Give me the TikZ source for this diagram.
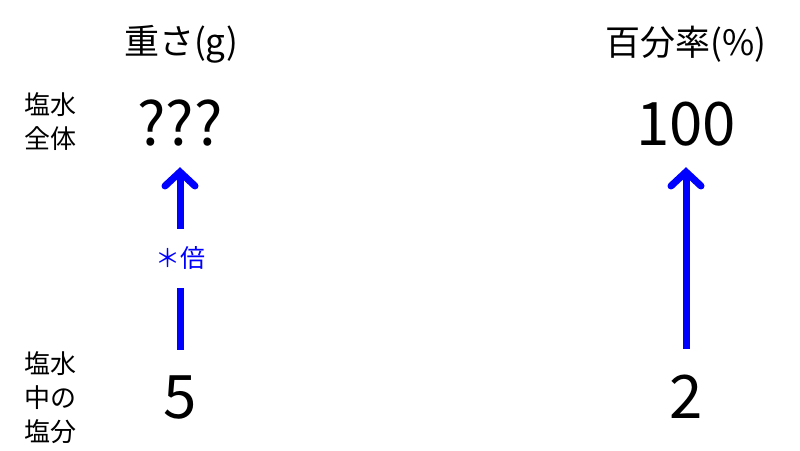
\documentclass[tikz,border=0pt]{standalone}
\usepackage{fontspec}
\setmainfont{Noto Sans CJK JP}
\usetikzlibrary{arrows.meta}
\usetikzlibrary{positioning, backgrounds}

\begin{document}
\begin{tikzpicture}[background rectangle/.style={fill=white}, show background rectangle, x=1pt, y=-1pt]
		\tikzstyle{head}=[font=\fontsize{35}{35}\selectfont, inner sep=0pt]
		\tikzstyle{num}=[font=\fontsize{60}{60}\selectfont, inner sep=0pt, text height=44pt, text depth=0pt, anchor=base]
		\tikzstyle{side}=[font=\fontsize{26}{34}\selectfont, inner sep=0pt, align=left, anchor=west]
		\tikzstyle{connect}=[draw=blue, line width=7pt, -{Straight Barb[length=14pt, width=30pt, line cap=round, line join=miter]}]
		\tikzstyle{plain}=[draw=blue, line width=7pt]
		\useasboundingbox (0,0) rectangle (800,450);
		\node[head] (weight) at (181,44) {重さ(g)};
		\node[head] (rate) at (686,44) {百分率(\%)};
		\node[num] (qmark) at (180,145) {???};
		\node[num] (hundred) at (686,145) {100};
		\node[num] (five) at (180,418) {5};
		\node[num] (two) at (686,418) {2};
		\node[side] (whole) at (24,122) {塩水\\全体};
		\node[side] (salt) at (24,398) {塩水\\中の\\塩分};
		\node[font=\fontsize{25}{25}\selectfont, text=blue, inner sep=0pt, minimum height=59pt] (times) at (180,258.5) {＊倍};
		\path
		(five) edge [plain, shorten <=24pt] (times)
		(times) edge [connect, shorten >=22pt] (qmark)
		(two) edge [connect, shorten <=25pt, shorten >=22pt] (hundred)
		;
	\end{tikzpicture}
\end{document}
